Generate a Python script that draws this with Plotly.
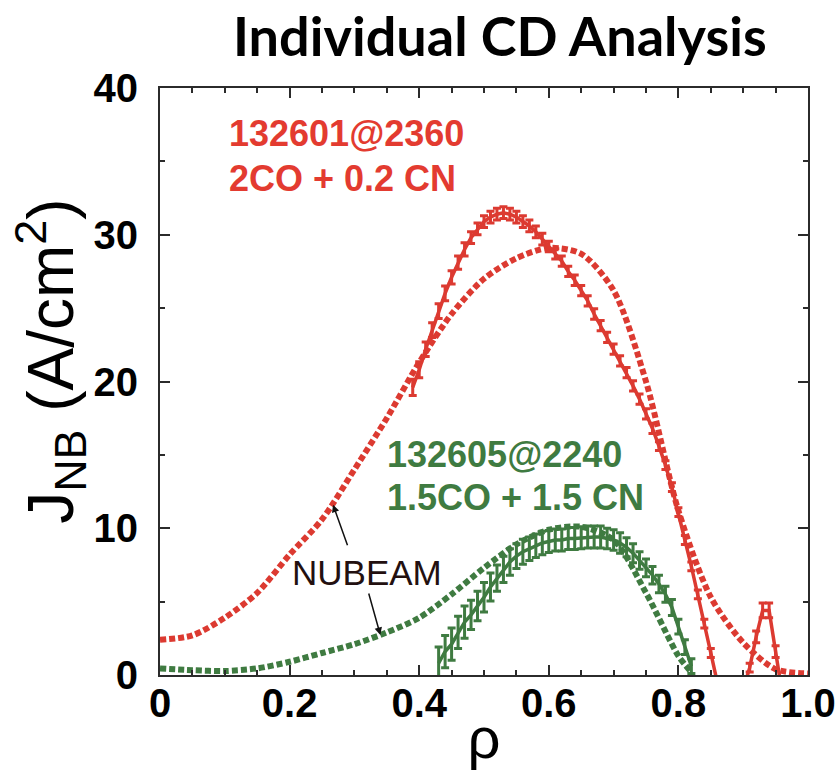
import plotly.graph_objects as go

# NUBEAM profiles (rho, J_NB in A/cm^2)
rho_nb_red = [0.0, 0.05, 0.1, 0.15, 0.2, 0.25, 0.3, 0.35, 0.4, 0.45, 0.5,
              0.55, 0.6, 0.65, 0.7, 0.75, 0.8, 0.85, 0.9, 0.95, 1.0]
j_nb_red = [2.4, 2.7, 3.9, 5.6, 8.2, 10.6, 14.0, 17.5, 21.3, 24.6, 27.0,
            28.4, 29.1, 28.7, 26.2, 20.0, 11.2, 5.3, 2.2, 0.4, 0.1]

rho_nb_green = [0.0, 0.05, 0.1, 0.15, 0.2, 0.25, 0.3, 0.35, 0.4, 0.45, 0.5,
                0.55, 0.6, 0.65, 0.7, 0.75, 0.8, 0.82]
j_nb_green = [0.45, 0.33, 0.27, 0.45, 0.9, 1.5, 2.1, 2.9, 3.9, 5.5, 7.3,
              8.9, 9.9, 10.1, 9.2, 5.6, 1.3, 0.2]

# Individual CD analysis, shot 132601 @ 2360 ms
rho_cd_red = [0.39, 0.40, 0.41, 0.42, 0.43, 0.44, 0.45, 0.46, 0.47, 0.48,
              0.49, 0.50, 0.51, 0.52, 0.53, 0.54, 0.55, 0.56, 0.57, 0.58,
              0.59, 0.60, 0.61, 0.62, 0.63, 0.64, 0.65, 0.66, 0.67, 0.68,
              0.69, 0.70, 0.71, 0.72, 0.73, 0.74, 0.75, 0.76, 0.77, 0.78,
              0.79, 0.80, 0.81, 0.82, 0.83, 0.84, 0.85, 0.86, 0.87, 0.88,
              0.89, 0.90, 0.91, 0.92, 0.93, 0.94, 0.95, 0.96]
j_cd_red = [19.6, 20.8, 22.2, 23.5, 24.8, 26.0, 27.1, 28.1, 29.0, 29.8,
            30.4, 30.9, 31.2, 31.4, 31.5, 31.4, 31.2, 30.9, 30.6, 30.2,
            29.7, 29.2, 28.7, 28.2, 27.5, 26.9, 26.2, 25.5, 24.6, 23.8,
            23.0, 22.2, 21.4, 20.6, 19.7, 18.8, 17.8, 16.8, 15.6, 14.3,
            12.8, 11.1, 9.2, 7.4, 5.5, 3.5, 1.5, -0.5, -2.0, -2.5,
            -2.0, -1.0, 0.5, 2.6, 4.4, 4.4, 1.6, -1.2]
err_cd_red = [0.55, 0.55, 0.5, 0.5, 0.5, 0.5, 0.45, 0.45, 0.45, 0.4,
              0.4, 0.4, 0.4, 0.4, 0.4, 0.4, 0.4, 0.4, 0.4, 0.4,
              0.4, 0.35, 0.35, 0.35, 0.35, 0.35, 0.35, 0.35, 0.35, 0.35,
              0.35, 0.35, 0.35, 0.35, 0.35, 0.35, 0.35, 0.35, 0.3, 0.3,
              0.3, 0.3, 0.3, 0.3, 0.3, 0.3, 0.3, 0.3, 0.3, 0.3,
              0.3, 0.3, 0.3, 0.4, 0.5, 0.5, 0.4, 0.3]

# Individual CD analysis, shot 132605 @ 2240 ms
rho_cd_green = [0.43, 0.44, 0.45, 0.46, 0.47, 0.48, 0.49, 0.50, 0.51, 0.52,
                0.53, 0.54, 0.55, 0.56, 0.57, 0.58, 0.59, 0.60, 0.61, 0.62,
                0.63, 0.64, 0.65, 0.66, 0.67, 0.68, 0.69, 0.70, 0.71, 0.72,
                0.73, 0.74, 0.75, 0.76, 0.77, 0.78, 0.79, 0.80, 0.81, 0.82]
j_cd_green = [0.8, 1.6, 2.1, 2.9, 3.6, 4.1, 4.7, 5.3, 6.0, 6.6,
              7.2, 7.7, 8.1, 8.4, 8.6, 8.8, 9.0, 9.1, 9.2, 9.2,
              9.3, 9.3, 9.35, 9.4, 9.4, 9.4, 9.3, 9.2, 9.0, 8.7,
              8.3, 7.8, 7.3, 6.8, 6.2, 5.5, 4.6, 3.3, 1.9, 0.6]
err_cd_green = [1.1, 1.1, 1.1, 1.1, 1.1, 1.0, 1.0, 1.0, 0.95, 0.9,
                0.9, 0.9, 0.85, 0.85, 0.8, 0.8, 0.8, 0.75, 0.75, 0.75,
                0.75, 0.75, 0.75, 0.75, 0.75, 0.75, 0.7, 0.7, 0.7, 0.65,
                0.65, 0.6, 0.6, 0.6, 0.6, 0.55, 0.55, 0.5, 0.5, 0.5]

x_tickvals = [0, 0.2, 0.4, 0.6, 0.8, 1.0]
x_ticktext = ["0", "0.2", "0.4", "0.6", "0.8", "1.0"]
y_tickvals = [0, 10, 20, 30, 40]

RED = "#dc3a31"
RED_TXT = "#e33b30"
GREEN = "#3f7b41"
AXIS = "#2b2b2b"

fig = go.Figure()

fig.add_trace(go.Scatter(
    x=rho_nb_red, y=j_nb_red, mode="lines",
    line=dict(color=RED, width=6, dash="6px,3px", shape="spline", smoothing=0.8),
    showlegend=False))
fig.add_trace(go.Scatter(
    x=rho_nb_green, y=j_nb_green, mode="lines",
    line=dict(color=GREEN, width=6, dash="6px,3px", shape="spline", smoothing=0.8),
    showlegend=False))

fig.add_trace(go.Scatter(
    x=rho_cd_red, y=j_cd_red, mode="lines",
    line=dict(color=RED, width=3.5),
    error_y=dict(type="data", array=err_cd_red, color=RED, thickness=3, width=4),
    showlegend=False))
fig.add_trace(go.Scatter(
    x=rho_cd_green, y=j_cd_green, mode="lines",
    line=dict(color=GREEN, width=3.5),
    error_y=dict(type="data", array=err_cd_green, color=GREEN, thickness=3, width=4),
    showlegend=False))

annotations = [
    dict(text="Individual CD Analysis", xref="paper", yref="paper",
         x=0.525, y=1.09, xanchor="center", yanchor="middle", showarrow=False,
         font=dict(family="Lato", size=54, color="#000000", weight="bold")),
    dict(text="J<sub>NB</sub> (A/cm<sup>2</sup>)", xref="paper", yref="paper",
         x=-0.17, y=0.535, xanchor="center", yanchor="middle", textangle=-90,
         showarrow=False,
         font=dict(family="Liberation Sans", size=64, color="#000000")),
    dict(text="132601@2360", x=0.1035, y=36.9, xanchor="left", yanchor="middle",
         showarrow=False, font=dict(family="Liberation Sans", size=36, color=RED_TXT, weight="bold")),
    dict(text="2CO + 0.2 CN", x=0.1035, y=33.8, xanchor="left", yanchor="middle",
         showarrow=False, font=dict(family="Liberation Sans", size=36, color=RED_TXT, weight="bold")),
    dict(text="132605@2240", x=0.3475, y=15.0, xanchor="left", yanchor="middle",
         showarrow=False, font=dict(family="Liberation Sans", size=36, color=GREEN, weight="bold")),
    dict(text="1.5CO + 1.5 CN", x=0.3475, y=12.1, xanchor="left", yanchor="middle",
         showarrow=False, font=dict(family="Liberation Sans", size=36, color=GREEN, weight="bold")),
    dict(text="NUBEAM", x=0.2, y=6.96, xanchor="left", yanchor="middle",
         showarrow=False, font=dict(family="Liberation Sans", size=35, color="#231010")),
    dict(text="", x=0.267, y=11.6, ax=15, ay=42, showarrow=True, arrowhead=2,
         arrowsize=1, arrowwidth=1.5, arrowcolor="#111111", standoff=0),
    dict(text="", x=0.340, y=2.73, ax=-12, ay=-43, showarrow=True, arrowhead=2,
         arrowsize=1, arrowwidth=1.5, arrowcolor="#111111", standoff=0),
]

fig.update_layout(
    width=840, height=770, autosize=False,
    margin=dict(l=160, r=32, t=88, b=95),
    paper_bgcolor="white", plot_bgcolor="white",
    annotations=annotations,
    xaxis=dict(
        range=[0, 1.0], tickvals=x_tickvals, ticktext=x_ticktext,
        ticks="inside", ticklen=10, tickwidth=1.5, tickcolor=AXIS,
        showline=True, linewidth=2, linecolor=AXIS, mirror="allticks",
        minor=dict(dtick=0.05, ticks="inside", ticklen=5, tickwidth=1.5, tickcolor=AXIS),
        showgrid=False, zeroline=False, ticklabelstandoff=-8, automargin=False,
        tickfont=dict(family="Liberation Sans", size=40, color="#000000", weight="bold"),
        title=dict(text="ρ", standoff=12,
                   font=dict(family="Liberation Sans", size=58, color="#000000")),
    ),
    yaxis=dict(
        range=[0, 40], tickvals=y_tickvals,
        ticks="inside", ticklen=10, tickwidth=1.5, tickcolor=AXIS,
        showline=True, linewidth=2, linecolor=AXIS, mirror="allticks",
        minor=dict(dtick=5, ticks="inside", ticklen=5, tickwidth=1.5, tickcolor=AXIS),
        showgrid=False, zeroline=False, ticklabelstandoff=12, automargin=False,
        tickfont=dict(family="Liberation Sans", size=40, color="#000000", weight="bold"),
    ),
)

fig.write_html("out.html")
